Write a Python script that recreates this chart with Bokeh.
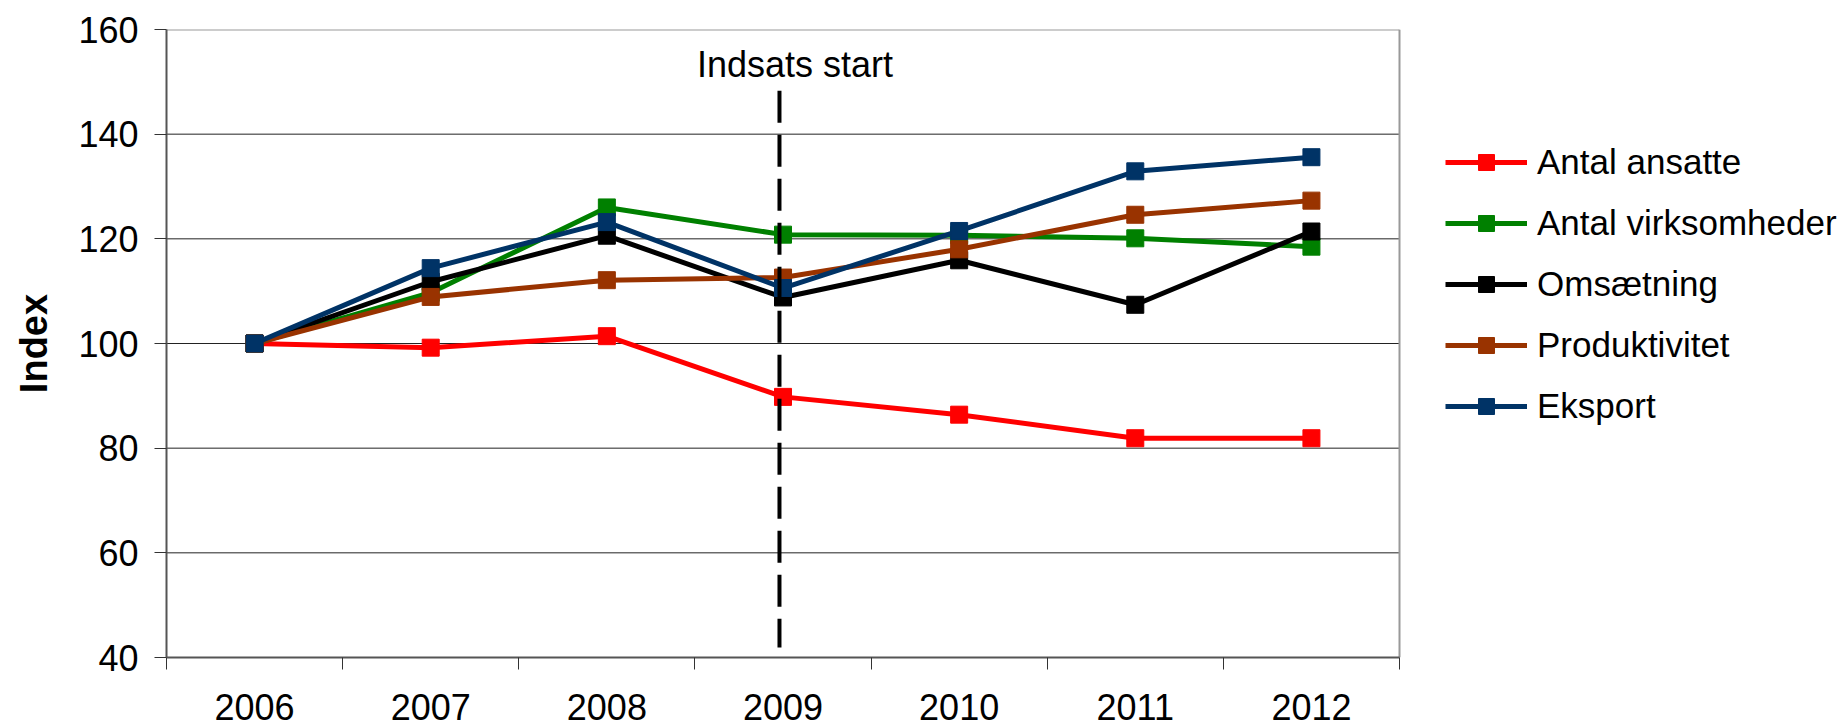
from bokeh.plotting import figure
from bokeh.models import (Range1d, FixedTicker, Legend, LegendItem, Label)
from bokeh.embed import file_html
from bokeh.resources import INLINE

years = [2006, 2007, 2008, 2009, 2010, 2011, 2012]
year_labels = ["2006", "2007", "2008", "2009", "2010", "2011", "2012"]

antal_ansatte = [100, 99.2, 101.4, 89.8, 86.4, 81.9, 81.9]
antal_virksomheder = [100, 109.7, 126.0, 120.8, 120.7, 120.1, 118.5]
omsaetning = [100, 111.8, 120.6, 108.8, 115.9, 107.4, 121.4]
produktivitet = [100, 108.9, 112.1, 112.6, 118.0, 124.6, 127.3]
eksport = [100, 114.4, 123.2, 110.6, 121.5, 132.9, 135.6]

series_names = ["Antal ansatte", "Antal virksomheder", "Omsætning", "Produktivitet", "Eksport"]
series_values = [antal_ansatte, antal_virksomheder, omsaetning, produktivitet, eksport]
series_colors = ["#FF0000", "#008000", "#000000", "#993300", "#003366"]

y_ticks = [40, 60, 80, 100, 120, 140, 160]
intervention_year = 2009
intervention_label = "Indsats start"

FONT = "Liberation Sans"

W, H = 1840, 728
LEFT, TOP, BOTTOM = 166, 29, 71
PLOT_PX = 1233                      # pixel width of the data area (7 categories)
x0 = years[0] - 0.5
x1 = years[-1] + 0.5
frame_px = W - LEFT
x_end = x0 + (x1 - x0) * frame_px / PLOT_PX   # frame extends under the legend

p = figure(width=W, height=H, output_backend="svg", toolbar_location=None,
           x_range=Range1d(x0, x_end),
           y_range=Range1d(y_ticks[0], y_ticks[-1]),
           min_border_left=LEFT, min_border_right=0,
           min_border_top=TOP, min_border_bottom=BOTTOM)
p.background_fill_color = "white"
p.border_fill_color = "white"
p.outline_line_color = None

# axes
p.xaxis.bounds = (x0, x1)
p.xaxis.ticker = FixedTicker(ticks=years, minor_ticks=[y - 0.5 for y in years] + [x1])
p.xaxis.major_label_overrides = {y: lab for y, lab in zip(years, year_labels)}
p.xaxis.major_tick_line_color = None
p.xaxis.major_tick_out = 12
p.xaxis.major_tick_in = 0
p.xaxis.minor_tick_out = 12
p.xaxis.minor_tick_in = 0
p.xaxis.minor_tick_line_color = "#333333"
p.xaxis.minor_tick_line_width = 1
p.xaxis.major_label_standoff = 24
p.xaxis.axis_line_color = "#555555"
p.xaxis.axis_line_width = 2

p.yaxis.ticker = FixedTicker(ticks=y_ticks, minor_ticks=[])
p.yaxis.major_tick_out = 12
p.yaxis.major_tick_in = 0
p.yaxis.major_tick_line_color = "#333333"
p.yaxis.major_label_standoff = 16
p.yaxis.axis_line_color = "#555555"
p.yaxis.axis_line_width = 2
p.yaxis.axis_label = "Index"
p.yaxis.axis_label_text_font = FONT
p.yaxis.axis_label_text_font_style = "bold"
p.yaxis.axis_label_text_font_size = "38px"
p.yaxis.axis_label_text_color = "black"
p.yaxis.axis_label_standoff = 20

for ax in (p.xaxis, p.yaxis):
    ax.major_label_text_font = FONT
    ax.major_label_text_font_size = "36px"
    ax.major_label_text_color = "black"

p.xgrid.grid_line_color = None
p.ygrid.grid_line_color = None

# horizontal grid lines and plot-area border limited to the data area
grid_vals = y_ticks[1:-1]
p.segment(x0=[x0] * len(grid_vals), y0=grid_vals, x1=[x1] * len(grid_vals), y1=grid_vals,
          line_color="#222222", line_width=1)
p.segment(x0=[x0, x1], y0=[y_ticks[-1], y_ticks[0]], x1=[x1, x1], y1=[y_ticks[-1], y_ticks[-1]],
          line_color="#999999", line_width=2)

items = []
for name, vals, col in zip(series_names, series_values, series_colors):
    lr = p.line(years, vals, line_color=col, line_width=5, line_join="round")
    sr = p.scatter(years, vals, marker="square", size=17, fill_color=col, line_color=col)
    items.append(LegendItem(label=name, renderers=[lr, sr]))

# intervention marker (dash pattern starts at the top)
p.segment(x0=[intervention_year - 0.02], y0=[148.3], x1=[intervention_year - 0.02], y1=[41.9],
          line_color="black", line_width=4, line_dash="32 12")
p.add_layout(Label(x=intervention_year, y=y_ticks[-1], x_offset=12, y_offset=-35,
                   text=intervention_label, text_align="center", text_baseline="alphabetic",
                   text_font=FONT, text_font_size="36px", text_color="black"))

legend = Legend(items=items, location=(1279, 231), orientation="vertical",
                glyph_width=82, glyph_height=40, label_height=40, spacing=21,
                label_standoff=10, padding=0, margin=0,
                label_text_font=FONT, label_text_font_size="35px", label_text_color="black",
                border_line_color=None, background_fill_alpha=0)
p.add_layout(legend, "center")

open("out.html", "w").write(file_html(p, INLINE))
